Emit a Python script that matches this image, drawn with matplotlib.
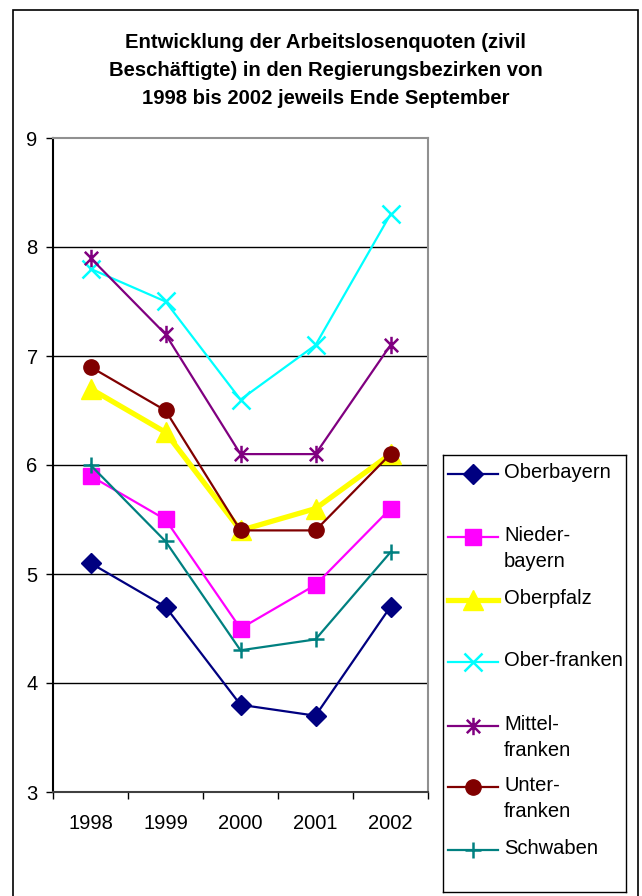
import numpy as np
import matplotlib
matplotlib.use("Agg")
import matplotlib.pyplot as plt
from matplotlib.path import Path
from matplotlib.patches import Rectangle

plt.rcParams['font.family'] = ['Liberation Sans', 'DejaVu Sans']

years = ['1998', '1999', '2000', '2001', '2002']
oberbayern = [5.1, 4.7, 3.8, 3.7, 4.7]
niederbayern = [5.9, 5.5, 4.5, 4.9, 5.6]
oberpfalz = [6.7, 6.3, 5.4, 5.6, 6.1]
oberfranken = [7.8, 7.5, 6.6, 7.1, 8.3]
mittelfranken = [7.9, 7.2, 6.1, 6.1, 7.1]
unterfranken = [6.9, 6.5, 5.4, 5.4, 6.1]
schwaben = [6.0, 5.3, 4.3, 4.4, 5.2]

labels = ['Oberbayern', 'Nieder-\nbayern', 'Oberpfalz', 'Ober-franken',
          'Mittel-\nfranken', 'Unter-\nfranken', 'Schwaben']
series = [oberbayern, niederbayern, oberpfalz, oberfranken,
          mittelfranken, unterfranken, schwaben]
y_ticks = [3, 4, 5, 6, 7, 8, 9]

# Excel style star: x with a vertical bar
star = Path([(-1, -1), (1, 1), (-1, 1), (1, -1), (0, -1.3), (0, 1.3)],
            [Path.MOVETO, Path.LINETO, Path.MOVETO, Path.LINETO,
             Path.MOVETO, Path.LINETO])

styles = [
    dict(color='#000080', marker='D', ms=10, lw=1.6, mec='#000080'),
    dict(color='#FF00FF', marker='s', ms=11, lw=1.6, mec='#FF00FF'),
    dict(color='#FFFF00', marker='^', ms=14, lw=3.8, mec='#FFFF00'),
    dict(color='#00FFFF', marker='x', ms=12.5, lw=1.6, mew=1.8),
    dict(color='#800080', marker=star, ms=12.5, lw=1.6, mew=1.8),
    dict(color='#800000', marker='o', ms=11, lw=1.6, mec='#800000'),
    dict(color='#008080', marker='+', ms=12, lw=1.6, mew=1.8),
]

W, H = 642, 896
fig = plt.figure(figsize=(W / 100, H / 100), dpi=100)

# outer frame
fig.patches.append(Rectangle((13 / W, -0.01), (638 - 13) / W, 1.01 - 10 / H,
                             transform=fig.transFigure, fill=False,
                             edgecolor='black', lw=1.2))

fig.text(0.5 * (13 + 638) / W, 1 - 71 / H,
         'Entwicklung der Arbeitslosenquoten (zivil\n'
         'Beschäftigte) in den Regierungsbezirken von\n'
         '1998 bis 2002 jeweils Ende September',
         ha='center', va='center', fontsize=14.6, fontweight='bold',
         linespacing=1.6)

ax = fig.add_axes([53 / W, 1 - 792 / H, (428 - 53) / W, (792 - 138) / H])
x = np.arange(len(years))
for vals, st in zip(series, styles):
    ax.plot(x, vals, **st)

ax.set_xlim(-0.5, len(years) - 0.5)
ax.set_ylim(3, 9)
ax.set_yticks(y_ticks)
ax.set_yticklabels([str(t) for t in y_ticks], fontsize=14.5)
ax.set_xticks(x)
ax.set_xticklabels(years, fontsize=14.5)
ax.set_xticks(np.arange(-0.5, len(years), 1.0), minor=True)
ax.tick_params(axis='x', which='major', length=0, pad=16)
ax.tick_params(axis='x', which='minor', length=5, width=1, direction='out')
ax.tick_params(axis='y', length=5, width=1, direction='out', pad=6)
for yv in y_ticks[1:-1]:
    ax.axhline(yv, color='black', lw=1, zorder=0)
ax.spines['left'].set_color('black')
ax.spines['bottom'].set_color('#404040')
ax.spines['top'].set_color('#909090')
ax.spines['right'].set_color('#909090')
for s in ax.spines.values():
    s.set_linewidth(1.5)

# legend box, drawn by hand so the handle sits on the first text line
lx0, lx1, ly0, ly1 = 443, 626, 455, 892
lax = fig.add_axes([lx0 / W, 1 - ly1 / H, (lx1 - lx0) / W, (ly1 - ly0) / H])
lax.set_xlim(lx0, lx1)
lax.set_ylim(ly1, ly0)
lax.set_xticks([])
lax.set_yticks([])
for s in lax.spines.values():
    s.set_color('black')
    s.set_linewidth(1)
entry_y = [474, 537, 600, 662, 726, 787, 850]
for ey, lab, st in zip(entry_y, labels, styles):
    lax.plot([448, 498], [ey, ey], **{k: v for k, v in st.items()
                                       if k not in ('marker', 'ms', 'mew', 'mec')})
    lax.plot([473], [ey], linestyle='none', **{k: v for k, v in st.items()
                                               if k != 'lw'})
    lax.text(504, ey - 11, lab, fontsize=14.5, va='top', ha='left',
             linespacing=1.45)

fig.savefig('out.png', dpi=100)
